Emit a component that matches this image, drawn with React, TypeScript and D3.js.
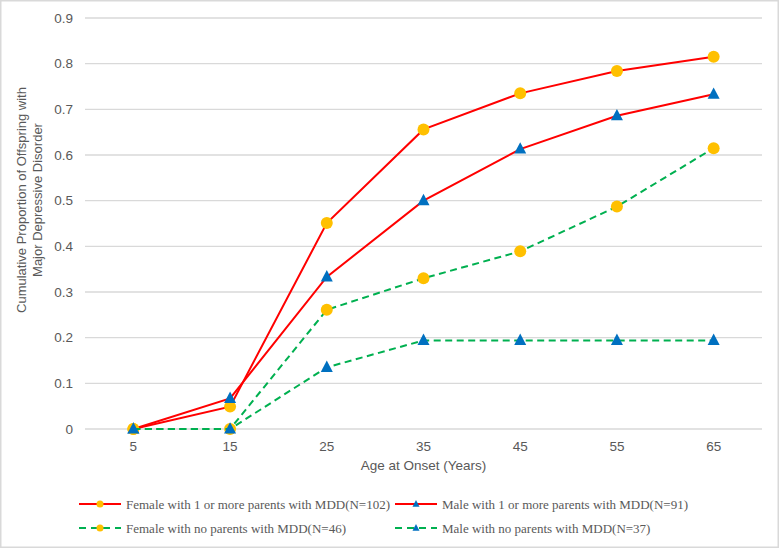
import React from "react";
import * as d3 from "d3";

const categories = ["5", "15", "25", "35", "45", "55", "65"];
const femaleParents = [0, 0.049, 0.451, 0.656, 0.735, 0.784, 0.815];
const maleParents = [0, 0.067, 0.333, 0.5, 0.613, 0.686, 0.733];
const femaleNone = [0, 0, 0.261, 0.33, 0.389, 0.487, 0.615];
const maleNone = [0, 0, 0.135, 0.194, 0.194, 0.194, 0.194];
const yTicks = [0, 0.1, 0.2, 0.3, 0.4, 0.5, 0.6, 0.7, 0.8, 0.9];
const seriesNames = [
  "Female with 1 or more parents with MDD(N=102)",
  "Male with 1 or more parents with MDD(N=91)",
  "Female with no parents with MDD(N=46)",
  "Male with no parents with MDD(N=37)",
];

const W = 779;
const H = 548;
const left = 85;
const right = 762;
const top = 18;
const bottom = 429;
const textColor = "#595959";
const sans = "'Liberation Sans', Arial, sans-serif";
const serif = "'Liberation Serif', 'Times New Roman', serif";

type S = { name: string; values: number[]; color: string; dash: string | null; marker: "circle" | "triangle"; mcolor: string };

const series: S[] = [
  { name: seriesNames[0], values: femaleParents, color: "#FF0000", dash: null, marker: "circle", mcolor: "#FFC000" },
  { name: seriesNames[1], values: maleParents, color: "#FF0000", dash: null, marker: "triangle", mcolor: "#0070C0" },
  { name: seriesNames[2], values: femaleNone, color: "#00B050", dash: "7,4.5", marker: "circle", mcolor: "#FFC000" },
  { name: seriesNames[3], values: maleNone, color: "#00B050", dash: "7,4.5", marker: "triangle", mcolor: "#0070C0" },
];

function Marker({ type, x, y, size, color }: { type: string; x: number; y: number; size: number; color: string }) {
  if (type === "circle") return <circle cx={x} cy={y} r={size / 2} fill={color} />;
  const h = size * 0.95;
  const w = size;
  return (
    <path
      d={`M${x},${y - h * 0.6} L${x + w / 2},${y + h * 0.4} L${x - w / 2},${y + h * 0.4} Z`}
      fill={color}
    />
  );
}

export default function App() {
  const x = d3.scaleBand<string>().domain(categories).range([left, right]);
  const xc = (c: string) => (x(c) as number) + x.bandwidth() / 2;
  const y = d3.scaleLinear().domain([0, 0.9]).range([bottom, top]);
  const line = d3
    .line<number>()
    .x((_, i) => xc(categories[i]))
    .y((d) => y(d));

  const legendPos = [
    { lx: 79, ly: 504 },
    { lx: 395, ly: 504 },
    { lx: 79, ly: 528 },
    { lx: 395, ly: 528 },
  ];

  return (
    <div style={{ position: "absolute", left: 0, top: 0 }}>
      <svg width={W} height={H} style={{ display: "block", background: "#fff" }}>
        <rect x={0.75} y={0.75} width={W - 1.5} height={H - 1.5} fill="#fff" stroke="#D9D9D9" strokeWidth={1.5} />
        {yTicks.map((t) => (
          <g key={t}>
            <line x1={left} x2={right} y1={y(t)} y2={y(t)} stroke="#D9D9D9" strokeWidth={1.3} />
            <text x={73} y={y(t)} dy="0.35em" textAnchor="end" fontFamily={sans} fontSize={13.5} fill={textColor}>
              {d3.format("")(+t.toFixed(1))}
            </text>
          </g>
        ))}
        {categories.map((c) => (
          <text key={c} x={xc(c)} y={446} dy="0.35em" textAnchor="middle" fontFamily={sans} fontSize={13.5} fill={textColor}>
            {c}
          </text>
        ))}
        <text x={(left + right) / 2} y={465} dy="0.35em" textAnchor="middle" fontFamily={sans} fontSize={13.5} fill={textColor}>
          Age at Onset (Years)
        </text>
        <text transform="translate(21,200) rotate(-90)" textAnchor="middle" dy="0.35em" fontFamily={sans} fontSize={13} fill={textColor}>
          Cumulative Proportion of Offspring with
        </text>
        <text transform="translate(37,200) rotate(-90)" textAnchor="middle" dy="0.35em" fontFamily={sans} fontSize={13} fill={textColor}>
          Major Depressive Disorder
        </text>
        {series.map((s) => (
          <g key={s.name}>
            <path
              d={line(s.values) || ""}
              fill="none"
              stroke={s.color}
              strokeWidth={2}
              strokeDasharray={s.dash || undefined}
            />
            {s.values.map((v, i) => (
              <Marker key={i} type={s.marker} x={xc(categories[i])} y={y(v)} size={12} color={s.mcolor} />
            ))}
          </g>
        ))}
        {series.map((s, i) => {
          const p = legendPos[i];
          return (
            <g key={"l" + i}>
              <line
                x1={p.lx}
                x2={p.lx + 42}
                y1={p.ly}
                y2={p.ly}
                stroke={s.color}
                strokeWidth={2}
                strokeDasharray={s.dash ? "7,5" : undefined}
              />
              <Marker type={s.marker} x={p.lx + 21} y={p.ly} size={7} color={s.mcolor} />
              <text x={p.lx + 47} y={p.ly} dy="0.35em" fontFamily={serif} fontSize={13} fill={textColor}>
                {s.name}
              </text>
            </g>
          );
        })}
      </svg>
    </div>
  );
}
